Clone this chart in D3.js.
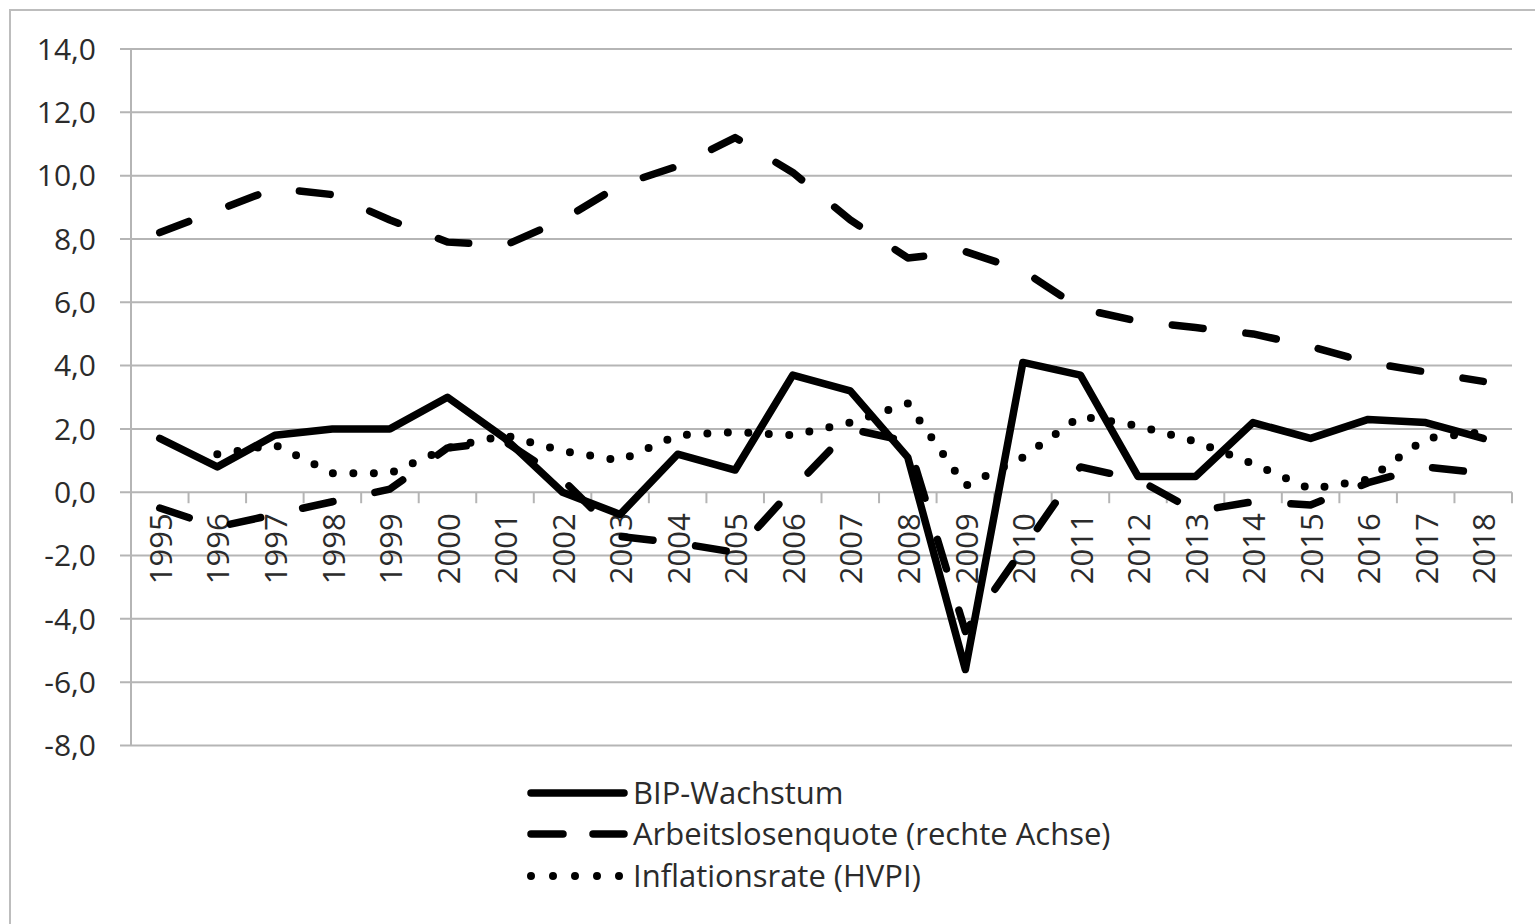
<!DOCTYPE html>
<html>
<head>
<meta charset="utf-8">
<script src="https://cdn.jsdelivr.net/npm/d3@7"></script>
<style>
  body { margin: 0; background: #fff; }
  text { font-family: "Open Sans", sans-serif; fill: #2b2b2b; }
</style>
</head>
<body>
<div id="chart"></div>
<script>
// data
var years = ["1995","1996","1997","1998","1999","2000","2001","2002","2003","2004","2005","2006",
             "2007","2008","2009","2010","2011","2012","2013","2014","2015","2016","2017","2018"];
var bip = [1.7,0.8,1.8,2.0,2.0,3.0,1.7,0.0,-0.7,1.2,0.7,3.7,3.2,1.1,-5.6,4.1,3.7,0.5,0.5,2.2,1.7,2.3,2.2,1.7];
var alq = [8.2,8.9,9.6,9.4,8.6,7.9,7.8,8.6,9.7,10.3,11.2,10.1,8.6,7.4,7.6,7.0,5.8,5.4,5.2,5.0,4.6,4.1,3.8,3.5];
// second dashed line (no own legend entry in the original)
var dashed2 = [-0.5,-1.1,-0.7,-0.3,0.1,1.4,1.6,0.4,-1.4,-1.6,-1.9,0.1,2.0,1.6,-4.4,-1.8,0.8,0.4,-0.6,-0.3,-0.4,0.3,0.8,0.6];
var hvpi = [null,1.2,1.5,0.6,0.6,1.4,1.8,1.3,1.0,1.8,1.9,1.8,2.2,2.8,0.2,1.1,2.4,2.1,1.6,0.9,0.1,0.4,1.7,1.9];
var yTicks = [14,12,10,8,6,4,2,0,-2,-4,-6,-8];
var legendNames = ["BIP-Wachstum", "Arbeitslosenquote (rechte Achse)", "Inflationsrate (HVPI)"];

var width = 1535, height = 924;
var plotLeft = 131, plotRight = 1512, plotTop = 49, plotBottom = 745.5;

var svg = d3.select("#chart")
  .append("svg")
    .attr("width", width)
    .attr("height", height);

// outer frame (only top and left edge are visible in the picture)
svg.append("rect")
  .attr("x", 10).attr("y", 10)
  .attr("width", 1600).attr("height", 1000)
  .attr("fill", "none")
  .attr("stroke", "#bdbdbd")
  .attr("stroke-width", 2);

var x = d3.scaleBand().domain(years).range([plotLeft, plotRight]);
var y = d3.scaleLinear().domain([-8, 14]).range([plotBottom, plotTop]);
var fmt = function(v) { return d3.format(".1f")(v).replace(".", ",").replace("−", "-"); };

// gridlines + y axis labels
svg.append("g")
  .selectAll("line")
  .data(yTicks)
  .join("line")
    .attr("x1", plotLeft - 11).attr("x2", plotRight)
    .attr("y1", d => y(d)).attr("y2", d => y(d))
    .attr("stroke", "#b5b5b5")
    .attr("stroke-width", 2);

svg.append("g")
  .selectAll("text")
  .data(yTicks)
  .join("text")
    .attr("x", 96)
    .attr("y", d => y(d))
    .attr("dy", "0.36em")
    .attr("text-anchor", "end")
    .style("font-size", "30px")
    .text(d => fmt(d));

// vertical axis line
svg.append("line")
  .attr("x1", plotLeft).attr("x2", plotLeft)
  .attr("y1", plotTop).attr("y2", plotBottom)
  .attr("stroke", "#b5b5b5")
  .attr("stroke-width", 2);

// category ticks on the zero line
var bounds = years.map(d => x(d)).concat([plotRight]);
svg.append("g")
  .selectAll("line")
  .data(bounds)
  .join("line")
    .attr("x1", d => d).attr("x2", d => d)
    .attr("y1", y(0)).attr("y2", y(0) + 11)
    .attr("stroke", "#b5b5b5")
    .attr("stroke-width", 2);

// rotated year labels
svg.append("g")
  .selectAll("text")
  .data(years)
  .join("text")
    .attr("transform", d => `translate(${x(d) + x.bandwidth() / 2 + 1}, ${y(0) + 21}) rotate(-90)`)
    .attr("dy", "0.36em")
    .attr("text-anchor", "end")
    .style("font-size", "31px")
    .text(d => d);

var line = d3.line()
  .defined(d => d != null)
  .x((d, i) => x(years[i]) + x.bandwidth() / 2)
  .y(d => y(d));

var dashStyle = "31,43", dotStyle = "0,20.5";

var series = [
  {values: bip, dash: null, w: 7.5},
  {values: alq, dash: dashStyle, w: 7.5},
  {values: dashed2, dash: dashStyle, w: 7.5},
  {values: hvpi, dash: dotStyle, w: 8}
];

svg.append("g")
  .selectAll("path")
  .data(series)
  .join("path")
    .attr("d", d => line(d.values))
    .attr("fill", "none")
    .attr("stroke", "#000")
    .attr("stroke-width", d => d.w)
    .attr("stroke-linecap", "round")
    .attr("stroke-linejoin", "round")
    .attr("stroke-dasharray", d => d.dash);

// legend
var legendY = [793, 834, 876];
var legendDash = [null, "32,30", "0,22"];
var lg = svg.append("g");
lg.selectAll("line")
  .data(legendNames)
  .join("line")
    .attr("x1", 531).attr("x2", 624)
    .attr("y1", (d, i) => legendY[i]).attr("y2", (d, i) => legendY[i])
    .attr("stroke", "#000")
    .attr("stroke-width", (d, i) => i == 2 ? 8 : 7.5)
    .attr("stroke-linecap", "round")
    .attr("stroke-dasharray", (d, i) => legendDash[i]);

lg.selectAll("text")
  .data(legendNames)
  .join("text")
    .attr("x", 633)
    .attr("y", (d, i) => legendY[i])
    .attr("dy", "0.36em")
    .style("font-size", "31px")
    .text(d => d);
</script>
</body>
</html>
